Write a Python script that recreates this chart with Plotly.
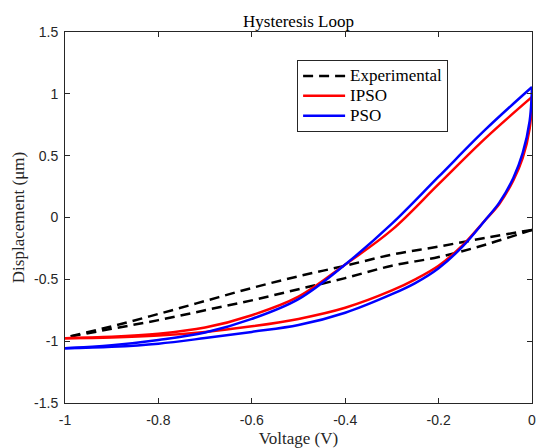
import plotly.graph_objects as go

# ---- data ----
volt_grid = [0.0, -0.1, -0.2, -0.3, -0.4, -0.5, -0.6, -0.7, -0.8, -0.9, -1.0]

exp_upper = [-0.10, -0.165, -0.235, -0.30, -0.39, -0.475, -0.57, -0.675, -0.78, -0.88, -0.97]
exp_lower = [-0.10, -0.22, -0.32, -0.39, -0.49, -0.58, -0.67, -0.75, -0.83, -0.90, -0.97]

ipso_upper = [0.975, 0.64, 0.27, -0.10, -0.38, -0.64, -0.79, -0.89, -0.94, -0.965, -0.976]
pso_upper = [1.055, 0.71, 0.33, -0.05, -0.38, -0.66, -0.82, -0.93, -0.99, -1.033, -1.057]

volt_lower = [-1.0, -0.9, -0.8, -0.7, -0.6, -0.5, -0.4, -0.3, -0.25, -0.2, -0.15, -0.1, -0.07, -0.04, -0.02, -0.005, 0.0]
ipso_lower = [-0.976, -0.97, -0.955, -0.925, -0.88, -0.82, -0.73, -0.59, -0.50, -0.39, -0.23, -0.02, 0.11, 0.30, 0.48, 0.72, 0.975]
pso_lower = [-1.057, -1.045, -1.02, -0.975, -0.925, -0.87, -0.77, -0.62, -0.53, -0.41, -0.24, -0.02, 0.12, 0.32, 0.52, 0.78, 1.055]

series_names = ["Experimental", "IPSO", "PSO"]

x_tickvals = [-1, -0.8, -0.6, -0.4, -0.2, 0]
x_ticktext = ["-1", "-0.8", "-0.6", "-0.4", "-0.2", "0"]
y_tickvals = [-1.5, -1, -0.5, 0, 0.5, 1, 1.5]
y_ticktext = ["-1.5", "-1", "-0.5", "0", "0.5", "1", "1.5"]

SERIF = "Liberation Serif, Times New Roman, serif"
SANS = "Liberation Sans, Arial, sans-serif"
AX = "#262626"


def legend_label(s):
    return "<span style='font-size:17px'>" + s + "</span>"


fig = go.Figure()

# Experimental (dashed black)
fig.add_trace(go.Scatter(x=volt_grid, y=exp_upper, mode="lines", name=legend_label(series_names[0]),
                         legendgroup="exp",
                         line=dict(color="black", width=2.5, dash="10px,6px", shape="spline")))
fig.add_trace(go.Scatter(x=volt_grid, y=exp_lower, mode="lines", name=series_names[0],
                         legendgroup="exp", showlegend=False,
                         line=dict(color="black", width=2.5, dash="10px,6px", shape="spline")))
# IPSO (red)
fig.add_trace(go.Scatter(x=volt_grid, y=ipso_upper, mode="lines", name=legend_label(series_names[1]),
                         legendgroup="ipso",
                         line=dict(color="#FF0000", width=2.5, shape="spline")))
fig.add_trace(go.Scatter(x=volt_lower, y=ipso_lower, mode="lines", name=series_names[1],
                         legendgroup="ipso", showlegend=False,
                         line=dict(color="#FF0000", width=2.5, shape="spline")))
# PSO (blue)
fig.add_trace(go.Scatter(x=volt_grid, y=pso_upper, mode="lines", name=legend_label(series_names[2]),
                         legendgroup="pso",
                         line=dict(color="#0000FF", width=2.5, shape="spline")))
fig.add_trace(go.Scatter(x=volt_lower, y=pso_lower, mode="lines", name=series_names[2],
                         legendgroup="pso", showlegend=False,
                         line=dict(color="#0000FF", width=2.5, shape="spline")))

axis_common = dict(showgrid=False, zeroline=False, showline=True, linecolor=AX, linewidth=1,
                   ticks="inside", ticklen=5, tickcolor=AX, mirror="ticks",
                   ticklabeloverflow="allow",
                   tickfont=dict(family=SANS, size=14, color=AX))

fig.update_layout(
    width=538, height=448,
    margin=dict(l=65, r=2, t=32, b=45),
    paper_bgcolor="white", plot_bgcolor="white",
    title=dict(text="Hysteresis Loop", x=0.5, xref="paper", xanchor="center",
               y=1, yref="paper", yanchor="bottom", pad=dict(b=5),
               font=dict(family=SERIF, size=17, color="black")),
    xaxis=dict(range=[-1, 0], tickvals=x_tickvals, ticktext=x_ticktext, ticklabelstandoff=4,
               title=dict(text="Voltage (V)", font=dict(family=SERIF, size=17, color=AX), standoff=5),
               **axis_common),
    yaxis=dict(range=[-1.5, 1.5], tickvals=y_tickvals, ticktext=y_ticktext, ticklabelstandoff=3,
               title=dict(text="Displacement (μm)", font=dict(family=SERIF, size=17, color=AX), standoff=5),
               **axis_common),
    legend=dict(x=0.497, y=0.9245, xanchor="left", yanchor="top",
                bgcolor="white", bordercolor=AX, borderwidth=1,
                font=dict(family=SERIF, size=13, color="black"),
                itemwidth=42, tracegroupgap=0),
    showlegend=True,
)

fig.write_html("out.html", config={"displayModeBar": False},
               post_script="document.body.style.margin='0';document.body.style.overflow='hidden';")
